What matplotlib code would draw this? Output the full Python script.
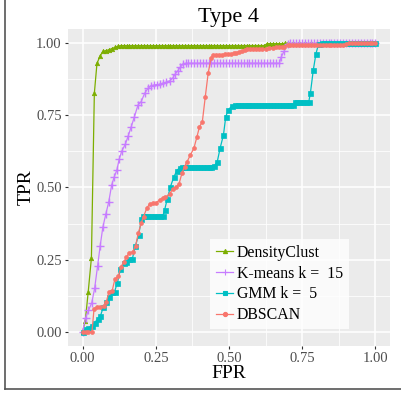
import matplotlib
matplotlib.use("Agg")
import matplotlib.pyplot as plt
from matplotlib.lines import Line2D

plt.rcParams['font.family'] = ['Liberation Serif', 'DejaVu Serif']

title = "Type 4"
x_label = "FPR"
y_label = "TPR"
tick_values = [0.0, 0.25, 0.5, 0.75, 1.0]
tick_labels = ["0.00", "0.25", "0.50", "0.75", "1.00"]
series_names = ["DensityClust", "K-means k =  15", "GMM k =  5", "DBSCAN"]

dens_x = [0.0, 0.009, 0.019, 0.030, 0.040, 0.049, 0.060, 0.069, 0.08, 0.09, 0.10, 0.11, 0.12,
          0.13, 0.14, 0.15, 0.16, 0.17, 0.18, 0.19, 0.20, 0.21, 0.22, 0.23, 0.24, 0.25, 0.26,
          0.27, 0.28, 0.29, 0.30, 0.31, 0.32, 0.33, 0.34, 0.35, 0.36, 0.37, 0.38, 0.39, 0.40,
          0.41, 0.42, 0.43, 0.44, 0.45, 0.46, 0.47, 0.48, 0.49, 0.50, 0.51, 0.52, 0.53, 0.54,
          0.55, 0.56, 0.57, 0.58, 0.59, 0.60, 0.61, 0.62, 0.63, 0.64, 0.65, 0.66, 0.67, 0.68,
          0.69, 0.70, 0.72, 0.74, 0.76, 0.78, 0.80, 0.82, 0.84, 0.86, 0.88, 0.90, 0.92, 0.94,
          0.96, 0.98, 1.00]
dens_y = [0.0, 0.037, 0.137, 0.256, 0.827, 0.931, 0.957, 0.972, 0.975, 0.978, 0.982, 0.986, 0.990,
          0.992, 0.992, 0.992, 0.992, 0.992, 0.992, 0.992, 0.992, 0.992, 0.992, 0.992, 0.992, 0.992, 0.992,
          0.992, 0.992, 0.992, 0.992, 0.992, 0.992, 0.992, 0.992, 0.992, 0.992, 0.992, 0.992, 0.992, 0.992,
          0.992, 0.992, 0.992, 0.992, 0.992, 0.992, 0.992, 0.992, 0.992, 0.992, 0.992, 0.992, 0.992, 0.992,
          0.992, 0.992, 0.992, 0.992, 0.992, 0.992, 0.992, 0.992, 0.999, 0.999, 0.999, 0.999, 0.999, 0.999,
          1.0, 1.0, 1.0, 1.0, 1.0, 1.0, 1.0, 1.0, 1.0, 1.0, 1.0, 1.0, 1.0, 1.0,
          1.0, 1.0, 1.0]

km_x = [0.0, 0.010, 0.020, 0.031, 0.041, 0.051, 0.060, 0.069, 0.079, 0.089, 0.099, 0.108, 0.117,
        0.125, 0.134, 0.146, 0.155, 0.166, 0.177, 0.189, 0.200, 0.212, 0.223, 0.234, 0.245, 0.255,
        0.265, 0.275, 0.286, 0.297, 0.308, 0.317, 0.325, 0.334, 0.343, 0.353, 0.36, 0.37, 0.38,
        0.39, 0.40, 0.41, 0.42, 0.43, 0.44, 0.45, 0.46, 0.47, 0.48, 0.49, 0.50, 0.51, 0.52, 0.53,
        0.54, 0.55, 0.56, 0.57, 0.58, 0.59, 0.60, 0.61, 0.62, 0.63, 0.64, 0.65, 0.66, 0.672, 0.678,
        0.689, 0.70, 0.71, 0.72, 0.73, 0.74, 0.75, 0.76, 0.77, 0.78, 0.79, 0.80, 0.81, 0.82, 0.83,
        0.84, 0.85, 0.86, 0.87, 0.88, 0.89, 0.90, 0.91, 0.92, 0.93, 0.94, 0.95, 0.96, 0.97, 0.98,
        0.99, 1.00]
km_y = [0.0, 0.048, 0.074, 0.099, 0.150, 0.227, 0.298, 0.362, 0.407, 0.449, 0.508, 0.537, 0.561,
        0.599, 0.627, 0.651, 0.677, 0.711, 0.746, 0.786, 0.798, 0.827, 0.844, 0.853, 0.856, 0.857,
        0.858, 0.861, 0.866, 0.870, 0.880, 0.895, 0.905, 0.918, 0.928, 0.931, 0.931, 0.931, 0.931,
        0.931, 0.931, 0.931, 0.931, 0.931, 0.931, 0.931, 0.931, 0.931, 0.931, 0.931, 0.931, 0.931, 0.931, 0.931,
        0.931, 0.931, 0.931, 0.931, 0.931, 0.931, 0.931, 0.931, 0.931, 0.931, 0.931, 0.931, 0.931, 0.931, 0.952,
        0.975, 0.998, 1.0, 1.0, 1.0, 1.0, 1.0, 1.0, 1.0, 1.0, 1.0, 1.0, 1.0, 1.0, 1.0,
        1.0, 1.0, 1.0, 1.0, 1.0, 1.0, 1.0, 1.0, 1.0, 1.0, 1.0, 1.0, 1.0, 1.0, 1.0,
        1.0, 1.0]

gmm_x = [0.0, 0.012, 0.020, 0.031, 0.041, 0.051, 0.061, 0.071, 0.081, 0.091, 0.100, 0.109, 0.119,
         0.129, 0.140, 0.149, 0.158, 0.170, 0.180, 0.191, 0.201, 0.205, 0.214, 0.224, 0.234, 0.244,
         0.254, 0.264, 0.274, 0.280, 0.289, 0.300, 0.311, 0.321, 0.331, 0.340, 0.35, 0.36, 0.37,
         0.38, 0.39, 0.40, 0.41, 0.42, 0.43, 0.44, 0.45, 0.46, 0.47, 0.481, 0.489, 0.498, 0.51,
         0.52, 0.53, 0.54, 0.55, 0.56, 0.57, 0.58, 0.59, 0.60, 0.61, 0.62, 0.63, 0.64, 0.65, 0.66,
         0.67, 0.68, 0.69, 0.70, 0.71, 0.72, 0.724, 0.734, 0.744, 0.754, 0.764, 0.772, 0.778, 0.788,
         0.797, 0.806, 0.816, 0.826, 0.836, 0.846, 0.856, 0.866, 0.876, 0.886, 0.896, 0.906, 0.916,
         0.926, 0.936, 0.946, 0.956, 0.966, 0.976, 0.986, 1.00]
gmm_y = [0.0, 0.009, 0.013, 0.020, 0.031, 0.043, 0.055, 0.086, 0.101, 0.120, 0.137, 0.139, 0.170,
         0.217, 0.238, 0.240, 0.251, 0.253, 0.297, 0.334, 0.390, 0.401, 0.401, 0.401, 0.401, 0.401,
         0.401, 0.401, 0.401, 0.422, 0.460, 0.503, 0.535, 0.557, 0.569, 0.572, 0.572, 0.572, 0.572,
         0.572, 0.572, 0.572, 0.572, 0.572, 0.572, 0.572, 0.575, 0.590, 0.638, 0.682, 0.746, 0.770, 0.783,
         0.788, 0.788, 0.788, 0.788, 0.788, 0.788, 0.788, 0.788, 0.788, 0.788, 0.788, 0.788, 0.788, 0.788, 0.788,
         0.788, 0.788, 0.788, 0.788, 0.788, 0.788, 0.795, 0.795, 0.795, 0.795, 0.795, 0.795, 0.827, 0.908,
         0.964, 0.998, 1.0, 1.0, 1.0, 1.0, 1.0, 1.0, 1.0, 1.0, 1.0, 1.0, 1.0,
         1.0, 1.0, 1.0, 1.0, 1.0, 1.0, 1.0, 1.0]

db_x = [0.0, 0.010, 0.020, 0.032, 0.039, 0.049, 0.060, 0.072, 0.081, 0.090, 0.101, 0.110, 0.122,
        0.131, 0.140, 0.149, 0.160, 0.171, 0.181, 0.190, 0.200, 0.208, 0.219, 0.229, 0.242, 0.251,
        0.263, 0.274, 0.283, 0.297, 0.308, 0.320, 0.329, 0.339, 0.348, 0.357, 0.368, 0.380, 0.390,
        0.399, 0.409, 0.419, 0.429, 0.439, 0.447, 0.457, 0.467, 0.477, 0.487, 0.497, 0.507, 0.516,
        0.525, 0.535, 0.545, 0.553, 0.562, 0.572, 0.582, 0.592, 0.602, 0.612, 0.627, 0.638, 0.650,
        0.660, 0.670, 0.680, 0.689, 0.700, 0.71, 0.72, 0.73, 0.74, 0.75, 0.76, 0.77, 0.78, 0.79,
        0.80, 0.81, 0.82, 0.83, 0.84, 0.85, 0.86, 0.87, 0.88, 0.89, 0.90, 0.91, 0.92, 0.93, 0.94,
        0.95, 0.96, 0.97, 0.98, 0.99, 1.00]
db_y = [0.0, 0.0, 0.0, 0.0, 0.080, 0.084, 0.084, 0.089, 0.104, 0.138, 0.142, 0.181, 0.193,
        0.225, 0.240, 0.258, 0.274, 0.277, 0.297, 0.341, 0.376, 0.399, 0.428, 0.443, 0.445, 0.447,
        0.457, 0.464, 0.466, 0.478, 0.495, 0.503, 0.511, 0.549, 0.572, 0.590, 0.613, 0.636, 0.674,
        0.710, 0.729, 0.815, 0.898, 0.949, 0.960, 0.961, 0.961, 0.961, 0.962, 0.962, 0.962, 0.965,
        0.968, 0.971, 0.975, 0.978, 0.980, 0.980, 0.980, 0.980, 0.980, 0.980, 0.980, 0.983, 0.985,
        0.986, 0.987, 0.988, 0.989, 0.995, 0.995, 0.995, 0.995, 0.995, 0.995, 0.995, 0.995, 0.995, 0.995,
        0.995, 0.995, 0.995, 0.995, 0.995, 0.995, 0.995, 0.995, 0.995, 0.995, 0.998, 1.0, 1.0, 1.0, 1.0,
        1.0, 1.0, 1.0, 1.0, 1.0, 1.0]

colors = ["#7CAE00", "#C77CFF", "#00BFC4", "#F8766D"]
markers = ["^", "+", "s", "o"]
msizes = [3.2, 5.5, 3.6, 2.8]

fig = plt.figure(figsize=(4.01, 3.93), dpi=100)
ax = fig.add_axes([68/401, 1-346/393, 322/401, 317/393])
ax.set_facecolor("#EBEBEB")

ax.set_xlim(-0.05, 1.05)
ax.set_ylim(-0.05, 1.05)
ax.set_xticks(tick_values)
ax.set_xticklabels(tick_labels)
ax.set_yticks(tick_values)
ax.set_yticklabels(tick_labels)
ax.set_xticks([0.125, 0.375, 0.625, 0.875], minor=True)
ax.set_yticks([0.125, 0.375, 0.625, 0.875], minor=True)
ax.grid(True, which='major', color='white', lw=1.1)
ax.grid(True, which='minor', color='white', lw=0.55)
ax.set_axisbelow(True)
ax.tick_params(which='minor', length=0)
ax.tick_params(which='major', length=2.5, width=0.8, color='#333333',
               labelcolor='#4D4D4D', labelsize=10.5, pad=2)
for s in ax.spines.values():
    s.set_visible(False)

data = [(dens_x, dens_y), (km_x, km_y), (gmm_x, gmm_y), (db_x, db_y)]
handles = []
for (xs, ys), c, m, ms, name in zip(data, colors, markers, msizes, series_names):
    h, = ax.plot(xs, ys, color=c, lw=0.9, marker=m, ms=ms, mew=1.0 if m == "+" else 0.5,
                 mec=c, mfc=c, label=name)
    handles.append(h)

ax.set_title(title, fontsize=16, pad=5)
ax.set_xlabel(x_label, fontsize=14, labelpad=0)
ax.set_ylabel(y_label, fontsize=14, labelpad=1)

leg_handles = []
for c, m in zip(colors, markers):
    leg_handles.append(Line2D([], [], color=c, lw=0.9, marker=m, ms=3.0 if m != "+" else 5.0,
                              mec=c, mfc=c, mew=0.8))

leg = ax.legend(leg_handles, series_names, loc='upper left', bbox_to_anchor=(0.441, 0.339),
                frameon=True, fancybox=False, facecolor='white', edgecolor='white',
                fontsize=11.4, handlelength=1.05, handletextpad=0.25, labelspacing=0.3,
                borderpad=0.4, borderaxespad=0)
leg.get_frame().set_linewidth(0)

fig.add_artist(Line2D([4.5/401, 4.5/401], [4.5/393, 1.0], color='#555555', lw=1.2,
                      transform=fig.transFigure))
fig.add_artist(Line2D([4.5/401, 1.0], [4.5/393, 4.5/393], color='#555555', lw=1.2,
                      transform=fig.transFigure))

fig.savefig("out.png", dpi=100, facecolor='white')
